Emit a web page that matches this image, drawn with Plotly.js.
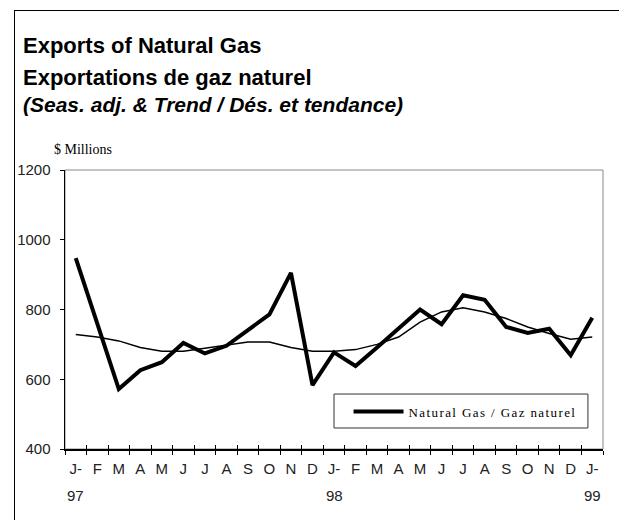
<!DOCTYPE html>
<html><head><meta charset="utf-8">
<script src="https://cdn.plot.ly/plotly-3.0.1.min.js"></script>
<style>
html,body{margin:0;padding:0;background:#fff;overflow:hidden}
#wrap{position:relative;width:619px;height:520px}
#frame{position:absolute;left:14px;top:10px;width:700px;height:600px;border-left:1px solid #000;border-top:1.5px solid #000;pointer-events:none}
.legendtext{letter-spacing:1.4px}
</style></head><body>
<div id="wrap"><div id="chart" style="width:619px;height:520px"></div><div id="frame"></div></div>
<script>
const months = ['Jan 97','Feb 97','Mar 97','Apr 97','May 97','Jun 97','Jul 97','Aug 97','Sep 97','Oct 97','Nov 97','Dec 97',
                'Jan 98','Feb 98','Mar 98','Apr 98','May 98','Jun 98','Jul 98','Aug 98','Sep 98','Oct 98','Nov 98','Dec 98','Jan 99'];
const monthLabels = ['J-','F','M','A','M','J','J','A','S','O','N','D','J-','F','M','A','M','J','J','A','S','O','N','D','J-'];
const yearKeys = ['Jan 97','Jan 98','Jan 99'];
const yearLabels = ['97','98','99'];
const seasAdj = [947,760,572,626,649,704,674,696,741,786,905,583,677,638,691,745,800,758,841,828,750,733,745,669,776];
const trend = [728,721,710,691,680,680,689,698,707,707,691,680,680,685,700,721,764,793,805,793,774,750,731,715,721];
const yTicks = [400,600,800,1000,1200];
const seriesName = 'Natural Gas / Gaz naturel';
const titleLines = ['Exports of Natural Gas','Exportations de gaz naturel','(Seas. adj. & Trend / Dés. et tendance)'];
const unitLabel = '$ Millions';

const tickFont = {family:'Liberation Sans Narrow, Arial Narrow, Liberation Sans, sans-serif', size:15, color:'#222'};
const serif = 'Liberation Serif, Times New Roman, serif';

const traces = [
  {x: months, y: trend, type:'scatter', mode:'lines', xaxis:'x2', yaxis:'y',
   line:{color:'#000', width:1.5}, showlegend:false, hoverinfo:'skip'},
  {x: months, y: seasAdj, type:'scatter', mode:'lines', name: seriesName,
   line:{color:'#000', width:4}}
];

const titleFont = {family:'Liberation Sans, Arial, sans-serif', size:22, color:'#000'};
const annotations = [
  {text:'<b>'+titleLines[0]+'</b>', x:-0.0818, y:1.448, font:titleFont},
  {text:'<b>'+titleLines[1]+'</b>', x:-0.0818, y:1.333, font:titleFont},
  {text:'<b><i>'+titleLines[2]+'</i></b>', x:-0.0818, y:1.233, font:Object.assign({}, titleFont, {size:21})}
].map(a => Object.assign(a, {xref:'paper', yref:'paper', xanchor:'left', yanchor:'middle', showarrow:false}));

annotations.push({text:unitLabel, x:-0.0245, y:1.075, xref:'paper', yref:'paper', xanchor:'left', yanchor:'middle',
  showarrow:false, font:{family:serif, size:14, color:'#000'}});

yearKeys.forEach((k,i) => annotations.push({text:yearLabels[i], x:k, xref:'x', y:0, yref:'paper', yanchor:'middle',
  yshift:-46, showarrow:false, font:tickFont}));

const commonX = {type:'category', categoryorder:'array', categoryarray:months, range:[-0.5, months.length-0.5],
  tickmode:'array', tickvals:months, tickson:'boundaries', ticklen:4, tickcolor:'#000', tickwidth:1,
  showgrid:false, zeroline:false};

const layout = {
  width:619, height:520,
  margin:{l:65, r:16, t:170, b:71, pad:0},
  paper_bgcolor:'#fff', plot_bgcolor:'#fff',
  font:tickFont,
  showlegend:true,
  legend:{x:0.527, y:0.188, xanchor:'left', yanchor:'top', borderwidth:0, bgcolor:'rgba(0,0,0,0)',
    font:{family:serif, size:13, color:'#000'}, itemwidth:50},
  xaxis: Object.assign({}, commonX, {ticktext:monthLabels, ticks:'outside', showline:true, linecolor:'#000', linewidth:1.5,
    tickfont:tickFont, ticklabelstandoff:5}),
  xaxis2: Object.assign({}, commonX, {overlaying:'x', anchor:'y', side:'bottom', ticks:'inside', showticklabels:false, showline:false}),
  yaxis:{range:[400,1200], tickmode:'array', tickvals:yTicks, ticks:'outside', ticklen:4, tickcolor:'#000',
    showline:true, linecolor:'#000', linewidth:1.5, showgrid:false, zeroline:false, tickfont:tickFont, ticklabelstandoff:6},
  shapes:[
    {type:'rect', xref:'paper', yref:'paper', x0:0, x1:1, y0:0, y1:1, line:{color:'#888', width:1}, layer:'below'},
    {type:'rect', xref:'paper', yref:'paper', x0:0.5, x1:0.972, y0:0.0753, y1:0.197, line:{color:'#333', width:1}, fillcolor:'#fff', layer:'above'}
  ],
  annotations: annotations
};

Plotly.newPlot('chart', traces, layout, {displayModeBar:false, staticPlot:true});
</script>
</body></html>
